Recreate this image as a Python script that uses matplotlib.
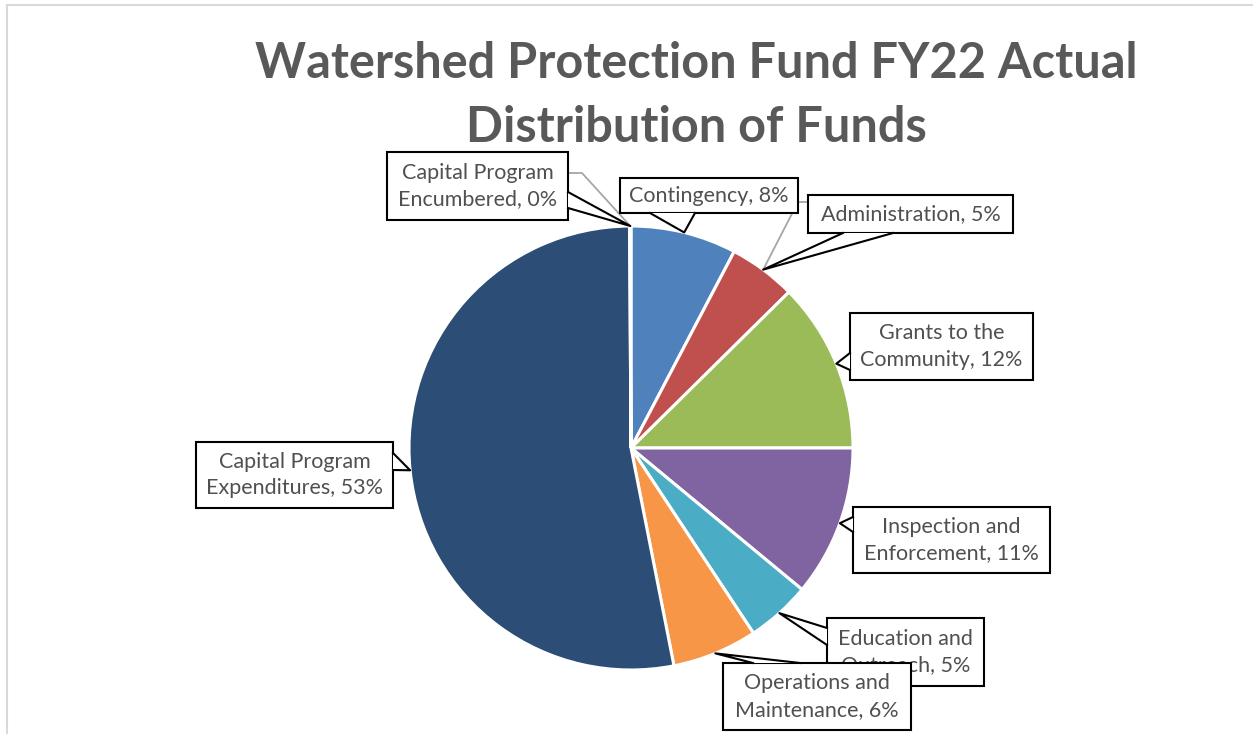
import matplotlib
matplotlib.use("Agg")
import matplotlib.pyplot as plt
from matplotlib.patches import Rectangle, Polygon
from matplotlib.lines import Line2D
import numpy as np

# slice data, clockwise from 12 o'clock
categories = ["Contingency", "Administration", "Grants to the\nCommunity",
              "Inspection and\nEnforcement", "Education and\nOutreach",
              "Operations and\nMaintenance", "Capital Program\nExpenditures",
              "Capital Program\nEncumbered"]
shares = [7.7, 4.9, 12.4, 11.0, 4.7, 6.2, 53.0, 0.1]
pct_labels = ["8%", "5%", "12%", "11%", "5%", "6%", "53%", "0%"]
colors = ["#4F81BD", "#C0504D", "#9BBB59", "#8064A2", "#4BACC6",
          "#F79646", "#2C4D75", "#772C2A"]

W, H = 1253, 734
# callout boxes in pixel units (left, top, right, bottom), pointer base points
boxes = [(620, 178, 798, 213), (808, 195, 1013, 233), (850, 313, 1033, 380),
         (853, 507, 1050, 573), (827, 618, 984, 686), (723, 663, 911, 730),
         (196, 442, 393, 508), (387, 152, 568, 220)]
bases = [((650, 213), (695, 213)), ((843, 233), (893, 233)),
         ((850, 353), (850, 370)), ((853, 517), (853, 532)),
         ((827, 628), (827, 645)), ((753, 663), (800, 663)),
         ((393, 453), (393, 470)), ((568, 192), (568, 208))]
gray_leaders = {1: [(808, 202), (798, 202)], 7: [(568, 173), (582, 173)]}
draw_order = [6, 7, 0, 1, 2, 3, 4, 5]


def P(px, py):
    return (px, H - py)


fig = plt.figure(figsize=(W / 100, H / 100), dpi=100)
ax = fig.add_axes([0, 0, 1, 1])

cx, cy = P(631, 448)
R = 222
wedges, _ = ax.pie(shares, colors=colors, startangle=90, counterclock=False,
                   center=(cx, cy), radius=R, frame=True,
                   wedgeprops=dict(edgecolor="white", linewidth=2.2))
ax.set_xlim(0, W)
ax.set_ylim(0, H)
ax.axis("off")

tips = []
for w in wedges:
    mid = np.deg2rad((w.theta1 + w.theta2) / 2)
    tips.append((cx + R * np.cos(mid), cy + R * np.sin(mid)))

# gray leader lines
for i, pts in gray_leaders.items():
    xs = [P(*p)[0] for p in pts] + [tips[i][0]]
    ys = [P(*p)[1] for p in pts] + [tips[i][1]]
    ax.add_line(Line2D(xs, ys, color="#A6A6A6", lw=1.3, zorder=3))

z = 10
for i in draw_order:
    l, t, r, b = boxes[i]
    x0, y0 = P(l, b)
    ax.add_patch(Rectangle((x0, y0), r - l, b - t, facecolor="white",
                           edgecolor="black", lw=1.5, zorder=z))
    b1 = P(*bases[i][0])
    b2 = P(*bases[i][1])
    ax.add_patch(Polygon([b1, tips[i], b2], closed=True, facecolor="white",
                         edgecolor="none", zorder=z + 1))
    ax.add_line(Line2D([b1[0], tips[i][0], b2[0]], [b1[1], tips[i][1], b2[1]],
                       color="black", lw=1.5, zorder=z + 2))
    label = categories[i] + ", " + pct_labels[i]
    tx, ty = P((l + r) / 2, (t + b) / 2)
    ax.text(tx, ty, label, ha="center", va="center", fontsize=15.5,
            family="Lato", color="#505050", linespacing=1.4, zorder=z + 3)
    z += 4

ax.text(*P(696, 63), "Watershed Protection Fund FY22 Actual", ha="center",
        va="center", fontsize=35, fontweight="bold", family="Lato",
        color="#595959")
ax.text(*P(696, 128), "Distribution of Funds", ha="center", va="center",
        fontsize=35, fontweight="bold", family="Lato", color="#595959")

# chart frame
fig.add_artist(Line2D([7 / W, 7 / W], [0, 1 - 5 / H], color="#D9D9D9",
                      lw=1.5, transform=fig.transFigure))
fig.add_artist(Line2D([7 / W, 1], [1 - 5 / H, 1 - 5 / H], color="#D9D9D9",
                      lw=1.5, transform=fig.transFigure))

fig.savefig("out.png", dpi=100)
